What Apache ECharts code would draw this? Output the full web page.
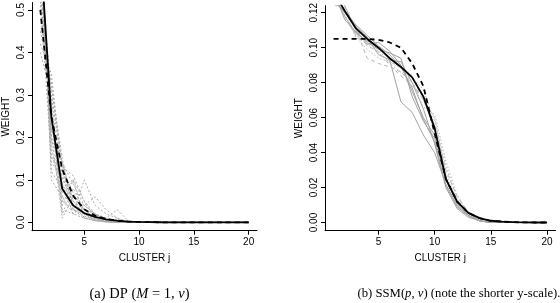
<!DOCTYPE html>
<html>
<head>
<meta charset="utf-8">
<script src="https://cdn.jsdelivr.net/npm/echarts@6/dist/echarts.min.js"></script>
<style>html,body{margin:0;padding:0;background:#fff;}#c{width:560px;height:303px;}</style>
</head>
<body>
<div id="c"></div>
<script>
const clusters = [1,2,3,4,5,6,7,8,9,10,11,12,13,14,15,16,17,18,19,20];
const xTicks = [5,10,15,20];
const yTicksA = [0,0.1,0.2,0.3,0.4,0.5];
const yTicksB = [0,0.02,0.04,0.06,0.08,0.10,0.12];

// (a) DP posterior mean (solid) and prior mean (dashed)
const dpMean  = [0.642,0.25,0.079,0.040,0.022,0.013,0.007,0.004,0.002,0.001,0.0005,0.0003,0.0002,0.0001,0,0,0,0,0,0];
const dpPrior = [0.5,0.25,0.125,0.0625,0.031,0.016,0.008,0.004,0.002,0.001,0.0005,0.0002,0.0001,0,0,0,0,0,0,0];
// (a) individual draws (grey dotted)
const dpDraw01 = [0.60,0.30,0.06,0.02,0.010,0.005,0.002,0.001,0,0,0,0,0,0,0,0,0,0,0,0];
const dpDraw02 = [0.55,0.22,0.14,0.05,0.020,0.010,0.004,0.001,0,0,0,0,0,0,0,0,0,0,0,0];
const dpDraw03 = [0.70,0.18,0.05,0.03,0.015,0.006,0.002,0,0,0,0,0,0,0,0,0,0,0,0,0];
const dpDraw04 = [0.45,0.33,0.10,0.06,0.030,0.010,0.003,0.001,0,0,0,0,0,0,0,0,0,0,0,0];
const dpDraw05 = [0.62,0.20,0.12,0.04,0.012,0.004,0.001,0,0,0,0,0,0,0,0,0,0,0,0,0];
const dpDraw06 = [0.50,0.28,0.04,0.10,0.050,0.010,0.003,0,0,0,0,0,0,0,0,0,0,0,0,0];
const dpDraw07 = [0.66,0.16,0.09,0.05,0.020,0.006,0.002,0,0,0,0,0,0,0,0,0,0,0,0,0];
const dpDraw08 = [0.58,0.25,0.02,0.08,0.030,0.020,0.005,0.001,0,0,0,0,0,0,0,0,0,0,0,0];
const dpDraw09 = [0.48,0.32,0.15,0.03,0.010,0.004,0.001,0,0,0,0,0,0,0,0,0,0,0,0,0];
const dpDraw10 = [0.72,0.12,0.08,0.04,0.020,0.010,0.003,0.001,0,0,0,0,0,0,0,0,0,0,0,0];
const dpDraw11 = [0.53,0.15,0.13,0.11,0.050,0.020,0.010,0.003,0,0,0,0,0,0,0,0,0,0,0,0];
const dpDraw12 = [0.64,0.21,0.01,0.06,0.040,0.020,0.006,0.001,0,0,0,0,0,0,0,0,0,0,0,0];
const dpDraw13 = [0.42,0.35,0.12,0.07,0.020,0.006,0.002,0,0,0,0,0,0,0,0,0,0,0,0,0];
const dpDraw14 = [0.68,0.14,0.11,0.03,0.020,0.010,0.004,0.001,0,0,0,0,0,0,0,0,0,0,0,0];
const dpDraw15 = [0.57,0.24,0.07,0.10,0.010,0.004,0.001,0,0,0,0,0,0,0,0,0,0,0,0,0];
const dpDraw16 = [0.61,0.19,0.13,0.04,0.020,0.005,0.002,0,0,0,0,0,0,0,0,0,0,0,0,0];
const dpDraw17 = [0.40,0.30,0.14,0.09,0.040,0.020,0.010,0.030,0.004,0,0,0,0,0,0,0,0,0,0,0];
const dpDraw18 = [0.75,0.10,0.06,0.05,0.030,0.010,0.002,0,0,0,0,0,0,0,0,0,0,0,0,0];
const dpDraw19 = [0.52,0.26,0.03,0.02,0.100,0.040,0.020,0.010,0.002,0,0,0,0,0,0,0,0,0,0,0];
const dpDraw20 = [0.59,0.23,0.09,0.02,0.040,0.060,0.030,0.010,0.001,0,0,0,0,0,0,0,0,0,0,0];
const dpDraws = [dpDraw01,dpDraw02,dpDraw03,dpDraw04,dpDraw05,dpDraw06,dpDraw07,dpDraw08,dpDraw09,dpDraw10,
                 dpDraw11,dpDraw12,dpDraw13,dpDraw14,dpDraw15,dpDraw16,dpDraw17,dpDraw18,dpDraw19,dpDraw20];

// (b) SSM posterior mean (solid) and prior mean (dashed)
const ssmMean  = [0.132,0.121,0.111,0.105,0.100,0.094,0.089,0.083,0.072,0.054,0.025,0.012,0.0055,0.0025,0.001,0.0005,0.0002,0.0001,0,0];
const ssmPrior = [0.105,0.105,0.105,0.105,0.1045,0.103,0.100,0.091,0.078,0.051,0.025,0.012,0.0055,0.0025,0.001,0.0005,0.0002,0.0001,0,0];
// (b) individual draws (grey; solid / dashed / dotted)
const ssmDraw01 = [0.130,0.118,0.108,0.104,0.100,0.093,0.069,0.063,0.050,0.040,0.022,0.010,0.004,0.001,0,0,0,0,0,0];
const ssmDraw02 = [0.135,0.124,0.110,0.102,0.103,0.098,0.090,0.075,0.060,0.050,0.025,0.011,0.004,0.001,0,0,0,0,0,0];
const ssmDraw03 = [0.128,0.120,0.112,0.106,0.096,0.093,0.092,0.080,0.065,0.045,0.020,0.008,0.003,0.001,0,0,0,0,0,0];
const ssmDraw04 = [0.125,0.121,0.110,0.094,0.091,0.089,0.086,0.080,0.070,0.055,0.030,0.015,0.006,0.002,0,0,0,0,0,0];
const ssmDraw05 = [0.132,0.119,0.106,0.102,0.097,0.092,0.088,0.083,0.076,0.058,0.032,0.014,0.005,0.002,0,0,0,0,0,0];
const ssmDraw06 = [0.127,0.122,0.106,0.099,0.094,0.092,0.089,0.084,0.070,0.060,0.028,0.013,0.004,0.001,0,0,0,0,0,0];
const ssmDraw07 = [0.133,0.116,0.109,0.103,0.099,0.097,0.094,0.072,0.058,0.048,0.024,0.012,0.005,0.001,0,0,0,0,0,0];
const ssmDraw08 = [0.129,0.123,0.111,0.101,0.098,0.090,0.084,0.078,0.072,0.052,0.026,0.009,0.003,0.001,0,0,0,0,0,0];
const ssmDraw09 = [0.131,0.117,0.107,0.105,0.099,0.091,0.086,0.081,0.066,0.062,0.035,0.016,0.005,0.001,0,0,0,0,0,0];
const ssmDraw10 = [0.126,0.121,0.113,0.107,0.101,0.096,0.089,0.077,0.059,0.046,0.021,0.009,0.004,0.001,0,0,0,0,0,0];
const ssmDraws = [ssmDraw01,ssmDraw02,ssmDraw03,ssmDraw04,ssmDraw05,ssmDraw06,ssmDraw07,ssmDraw08,ssmDraw09,ssmDraw10];
const ssmDrawStyles = ['solid','solid','solid','dashed','dotted','dotted','solid','dashed','dotted','solid'];

const FONT = 'Liberation Sans, Arial, Helvetica, sans-serif';
const pairs = arr => clusters.map((c, i) => [c, arr[i]]);

function xAxisFor(g) {
  return {
    type: 'value', gridIndex: g, min: 0.24, max: 20.76,
    axisLine: { show: true, onZero: false, lineStyle: { color: '#000', width: 1 } },
    axisTick: { show: true, length: 4, customValues: xTicks, lineStyle: { color: '#000', width: 1 } },
    axisLabel: { customValues: xTicks, margin: 7, fontSize: 10, color: '#000', fontFamily: FONT },
    splitLine: { show: false },
    name: 'CLUSTER j', nameLocation: 'middle', nameGap: 23,
    nameTextStyle: { fontSize: 10, color: '#000', fontFamily: FONT }
  };
}
function yAxisFor(g, min, max, ticks, digits) {
  return {
    type: 'value', gridIndex: g, min: min, max: max,
    axisLine: { show: true, onZero: false, lineStyle: { color: '#000', width: 1 } },
    axisTick: { show: true, length: 4, customValues: ticks, lineStyle: { color: '#000', width: 1 } },
    axisLabel: { customValues: ticks, rotate: 90, margin: 6, fontSize: 10, color: '#000', fontFamily: FONT,
                 formatter: v => Number(v).toFixed(digits) },
    splitLine: { show: false },
    name: 'WEIGHT', nameLocation: 'middle', nameGap: 21, nameRotate: 90,
    nameTextStyle: { fontSize: 10, color: '#000', fontFamily: FONT }
  };
}

const series = [];
dpDraws.forEach(d => series.push({
  type: 'line', xAxisIndex: 0, yAxisIndex: 0, data: pairs(d), showSymbol: false, silent: true,
  lineStyle: { color: '#acacac', width: 1, type: [2, 2] }
}));
series.push({ type: 'line', xAxisIndex: 0, yAxisIndex: 0, data: pairs(dpPrior), showSymbol: false, silent: true,
  lineStyle: { color: '#000', width: 1.8, type: [5, 4] } });
series.push({ type: 'line', xAxisIndex: 0, yAxisIndex: 0, data: pairs(dpMean), showSymbol: false, silent: true,
  lineStyle: { color: '#000', width: 1.8 } });

ssmDraws.forEach((d, k) => {
  const st = ssmDrawStyles[k];
  series.push({
    type: 'line', xAxisIndex: 1, yAxisIndex: 1, data: pairs(d), showSymbol: false, silent: true,
    lineStyle: { color: st === 'solid' ? '#a2a2a2' : '#b8b8b8', width: 1,
                 type: st === 'solid' ? 'solid' : (st === 'dashed' ? [4, 3] : [1.5, 2]) }
  });
});
series.push({ type: 'line', xAxisIndex: 1, yAxisIndex: 1, data: pairs(ssmPrior), showSymbol: false, silent: true,
  lineStyle: { color: '#000', width: 1.8, type: [5, 4] } });
series.push({ type: 'line', xAxisIndex: 1, yAxisIndex: 1, data: pairs(ssmMean), showSymbol: false, silent: true,
  lineStyle: { color: '#000', width: 1.8 } });

const SERIF = 'Liberation Serif, DejaVu Serif, serif';
const chart = echarts.init(document.getElementById('c'), null, { renderer: 'canvas' });
chart.setOption({
  animation: false,
  backgroundColor: '#fff',
  grid: [
    { left: 25.5, top: 0, width: 231.5, height: 230.7 },
    { left: 325, top: 0, width: 230.5, height: 230.7 }
  ],
  xAxis: [xAxisFor(0), xAxisFor(1)],
  yAxis: [
    yAxisFor(0, -0.01955, 0.5175, yTicksA, 1),
    yAxisFor(1, -0.00469, 0.12407, yTicksB, 2)
  ],
  series: series,
  graphic: [
    { type: 'text', x: 139.5, y: 294, silent: true,
      style: { text: '(a) DP ({i|M} = 1, {i|ν})', align: 'center', verticalAlign: 'middle',
               font: '14.5px ' + SERIF, fill: '#000',
               rich: { i: { fontStyle: 'italic', fontSize: 14.5, fontFamily: SERIF } } } },
    { type: 'text', x: 459, y: 294, silent: true,
      style: { text: '(b) SSM({i|p}, {i|ν}) (note the shorter y-scale).', align: 'center', verticalAlign: 'middle',
               font: '12.7px ' + SERIF, fill: '#000',
               rich: { i: { fontStyle: 'italic', fontSize: 12.7, fontFamily: SERIF } } } }
  ]
});
</script>
</body>
</html>
